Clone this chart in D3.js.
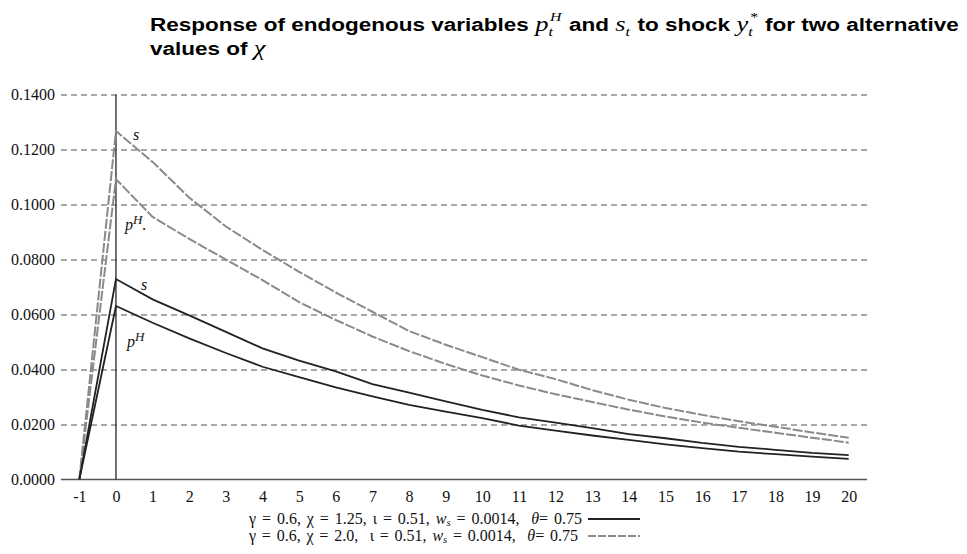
<!DOCTYPE html>
<html><head><meta charset="utf-8">
<script src="https://cdn.jsdelivr.net/npm/d3@7"></script>
<style>
body{margin:0;background:#fff;}
svg{display:block;}
</style></head>
<body>
<svg id="chart" width="967" height="554"></svg>
<script>
// ---- data ----
const periods = [-1,0,1,2,3,4,5,6,7,8,9,10,11,12,13,14,15,16,17,18,19,20];
const sChi125  = [0,0.0729,0.0655,0.0597,0.0537,0.0477,0.0432,0.0393,0.0347,0.0316,0.0284,0.0253,0.0226,0.0207,0.0187,0.0165,0.0150,0.0133,0.0119,0.0108,0.0097,0.0089];
const pHChi125 = [0,0.0631,0.0570,0.0513,0.0460,0.0410,0.0372,0.0335,0.0302,0.0271,0.0247,0.0223,0.0196,0.0178,0.0160,0.0144,0.0128,0.0114,0.0101,0.0092,0.0083,0.0075];
const sChi20   = [0,0.1267,0.1155,0.1025,0.0920,0.0835,0.0755,0.0680,0.0610,0.0540,0.0490,0.0445,0.0399,0.0365,0.0325,0.0290,0.0260,0.0235,0.0212,0.0192,0.0171,0.0152];
const pHChi20  = [0,0.1092,0.0955,0.0875,0.0800,0.0725,0.0645,0.0580,0.0520,0.0467,0.0420,0.0378,0.0342,0.0310,0.0282,0.0254,0.0229,0.0207,0.0188,0.0170,0.0152,0.0134];
const yTicks = [0,0.02,0.04,0.06,0.08,0.10,0.12,0.14];
const xTicks = periods;
const legendLabels = ["γ = 0.6, χ = 1.25, ι = 0.51, ", "γ = 0.6, χ = 2.0,  ι = 0.51, "];

// ---- layout ----
const svg = d3.select("#chart");
const pLeft = 61, pRight = 867, pTop = 94.5, pBottom = 479.5;
const x = d3.scaleLinear().domain([-1.5, 20.5]).range([pLeft, pRight]);
const y = d3.scaleLinear().domain([0, 0.14]).range([pBottom, pTop]);
const serif = "'Liberation Serif','Times New Roman',serif";
const sans = "'Liberation Sans',Arial,Helvetica,sans-serif";

// y axis with dashed gridlines
const yAxis = svg.append("g").attr("transform", `translate(${pLeft},0)`)
  .call(d3.axisLeft(y).tickValues(yTicks).tickFormat(d3.format(".4f"))
        .tickSize(-(pRight-pLeft)).tickPadding(6));
yAxis.select(".domain").remove();
yAxis.selectAll(".tick line").attr("stroke", "#555").attr("stroke-width", 1.2)
  .attr("stroke-dasharray", "6,4")
  .filter(d => d === 0).remove();
yAxis.selectAll(".tick text").attr("font-family", serif).attr("font-size", 16).attr("fill", "#111");

// x axis
const xAxis = svg.append("g").attr("transform", `translate(0,${pBottom})`)
  .call(d3.axisBottom(x).tickValues(xTicks).tickFormat(d => String(d).replace("−", "-")).tickSize(0).tickPadding(11));
xAxis.select(".domain").remove();
xAxis.selectAll(".tick text").attr("font-family", serif).attr("font-size", 16).attr("fill", "#111");

svg.append("line").attr("x1", pLeft).attr("x2", pRight).attr("y1", pBottom).attr("y2", pBottom)
  .attr("stroke", "#555").attr("stroke-width", 1.4);
svg.append("line").attr("x1", x(0)).attr("x2", x(0)).attr("y1", pTop).attr("y2", pBottom)
  .attr("stroke", "#333").attr("stroke-width", 1.4);

// series
const line = d3.line().x((d,i) => x(periods[i])).y(d => y(d));
const series = [
  {v: sChi20,  stroke: "#8a8a8a", w: 2, dash: "10,2"},
  {v: pHChi20, stroke: "#8a8a8a", w: 2, dash: "10,2"},
  {v: sChi125, stroke: "#222", w: 1.8, dash: null},
  {v: pHChi125,stroke: "#222", w: 1.8, dash: null}
];
svg.append("g").selectAll("path").data(series).join("path")
  .attr("d", d => line(d.v)).attr("fill", "none")
  .attr("stroke", d => d.stroke).attr("stroke-width", d => d.w)
  .attr("stroke-dasharray", d => d.dash);

// curve labels
function lab(xp, yp, main, sup, extra) {
  const t = svg.append("text").attr("x", xp).attr("y", yp)
    .attr("font-family", serif).attr("font-style", "italic").attr("font-size", 16).attr("fill", "#111");
  t.append("tspan").text(main);
  if (sup) t.append("tspan").attr("dy", -6).attr("font-size", 13).text(sup);
  if (extra) t.append("tspan").attr("dy", 6).attr("font-size", 16).text(extra);
}
lab(133, 140, "s");
lab(125, 230, "p", "H", ".");
lab(141, 290, "s");
lab(127, 347, "p", "H");

// title (built at base size, then stretched to the reference width)
function titleLine(g, pieces) {
  let cx = 0;
  pieces.forEach(p => {
    const t = g.append("text").attr("x", cx).attr("y", 0).attr("fill", "#000");
    if (p.kind === "b") {
      t.attr("font-family", sans).attr("font-weight", "bold").attr("font-size", 17)
        .style("white-space", "pre").text(p.t);
      cx += t.node().getComputedTextLength();
    } else {
      t.attr("font-family", serif).attr("font-style", "italic").attr("font-size", 20).text(p.t);
      cx += t.node().getComputedTextLength();
      let w = 0;
      if (p.sup) {
        const s = g.append("text").attr("x", cx + 1).attr("y", -9).attr("font-family", serif)
          .attr("font-style", "italic").attr("font-size", 12).text(p.sup);
        w = Math.max(w, s.node().getComputedTextLength() + 1);
      }
      if (p.sub) {
        const s = g.append("text").attr("x", cx).attr("y", 5).attr("font-family", serif)
          .attr("font-style", "italic").attr("font-size", 12).text(p.sub);
        w = Math.max(w, s.node().getComputedTextLength());
      }
      cx += w + 1;
    }
  });
  return cx;
}
const tg1 = svg.append("g");
const w1 = titleLine(tg1, [
  {kind:"b", t:"Response of endogenous variables "},
  {kind:"m", t:"p", sup:"H", sub:"t"},
  {kind:"b", t:" and "},
  {kind:"m", t:"s", sub:"t"},
  {kind:"b", t:" to shock "},
  {kind:"m", t:"y", sup:"*", sub:"t"},
  {kind:"b", t:" for two alternative"}
]);
const tg2 = svg.append("g");
titleLine(tg2, [
  {kind:"b", t:"values of "},
  {kind:"m", t:"χ"}
]);
const kx = 809 / w1, ky = 1.07;
tg1.attr("transform", `translate(150,31) scale(${kx},${ky})`);
tg2.attr("transform", `translate(150,55) scale(${kx},${ky})`);

// legend
const legY = [524, 541];
const legEnd = [582, 578];
legendLabels.forEach((lbl, i) => {
  const t = svg.append("text").attr("x", 249).attr("y", legY[i])
    .attr("font-family", serif).attr("font-size", 16).attr("fill", "#111")
    .style("white-space", "pre");
  t.append("tspan").text(lbl);
  t.append("tspan").attr("font-style", "italic").text("w");
  t.append("tspan").attr("font-style", "italic").attr("font-size", 10.5).attr("dy", 2).text("s");
  t.append("tspan").attr("dy", -2).text(" = 0.0014,  ");
  t.append("tspan").attr("font-style", "italic").text("θ");
  t.append("tspan").text("= 0.75");
  const full = t.text();
  const nSp = (full.match(/ /g) || []).length;
  const wNat = t.node().getComputedTextLength();
  t.attr("word-spacing", Math.max(0, (legEnd[i] - 249 - wNat) / nSp));
  svg.append("line").attr("x1", 588).attr("x2", 640).attr("y1", legY[i] - 5).attr("y2", legY[i] - 5)
    .attr("stroke", series[i === 0 ? 2 : 0].stroke).attr("stroke-width", 2)
    .attr("stroke-dasharray", i === 0 ? null : "8,2");
});
</script>
</body></html>
